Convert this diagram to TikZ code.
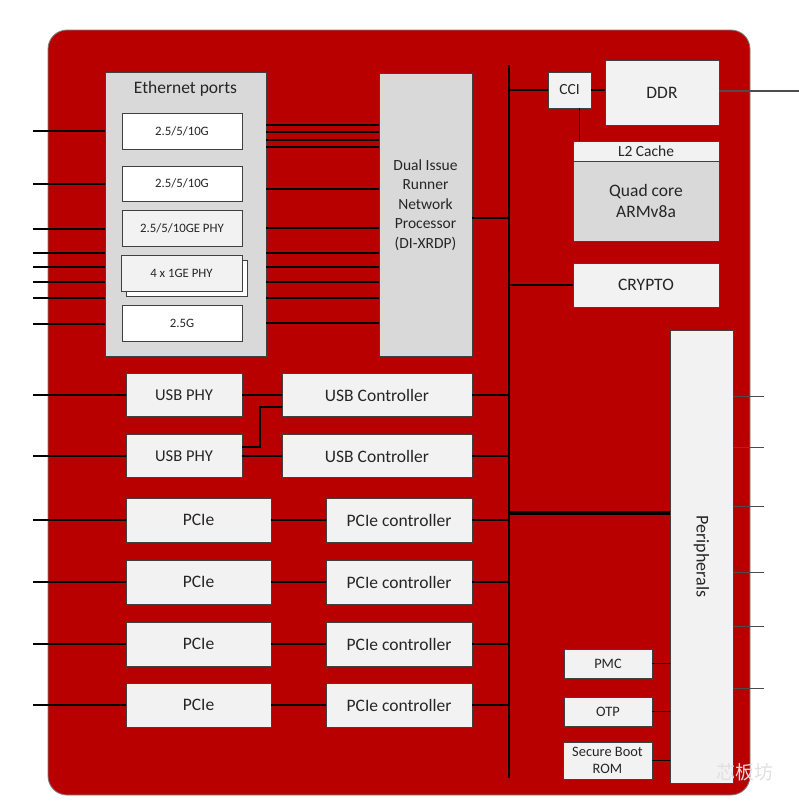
\documentclass[tikz,border=0pt]{standalone}
\usepackage{fontspec}
\setmainfont{Carlito}
\newfontfamily\cjkfont{Noto Sans CJK SC}
\usetikzlibrary{calc}
\definecolor{chipred}{RGB}{184,0,0}
\definecolor{boxgrey}{RGB}{217,217,217}
\definecolor{boxlite}{RGB}{242,242,242}
\definecolor{edgegrey}{RGB}{64,64,64}
\tikzset{
  blk/.style={draw=edgegrey, line width=0.9pt, inner sep=0pt, align=center, text=black!85,
    font=\fontsize{17.5}{21}\selectfont},
  litebox/.style={blk, fill=boxlite},
  greybox/.style={blk, fill=boxgrey},
  whitebox/.style={blk, fill=white},
  smalltxt/.style={font=\fontsize{12.8}{15}\selectfont},
  midtxt/.style={font=\fontsize{15.5}{19.5}\selectfont},
  wire/.style={line width=1.8pt, black},
  bus/.style={line width=2.6pt, black},
  pin/.style={line width=0.8pt, black!70},
}

\begin{document}
\begin{tikzpicture}[x=1pt,y=-1pt]
\useasboundingbox (0,0) rectangle (799,807);
\coordinate (edgeL) at (33,0);
\coordinate (edgeR) at (764,0);
\coordinate (edgeDDR) at (799,0);
\coordinate (busT) at (509,65);
\coordinate (busB) at (509,778);

\draw[draw=black!50, fill=chipred, rounded corners=19pt, line width=0.8pt]
  (48,30) rectangle (750,795);

% ethernet side
\node[greybox, minimum width=161, minimum height=284] (eth) at (185.5,214) {};
\node[text=black!85, font=\fontsize{17.5}{21}\selectfont] (ethT) at (185.5,89) {Ethernet ports};
\node[whitebox, smalltxt, minimum width=120, minimum height=36] (e1) at (182,131) {2.5/5/10G};
\node[whitebox, smalltxt, minimum width=120, minimum height=35] (e2) at (182,183.5) {2.5/5/10G};
\node[litebox, smalltxt, minimum width=120, minimum height=36] (e3) at (182,228) {2.5/5/10GE PHY};
\node[whitebox, minimum width=121, minimum height=36] (e4b) at (186.5,278) {};
\node[litebox, smalltxt, minimum width=121, minimum height=36] (e4) at (181.5,273) {4 x 1GE PHY};
\node[whitebox, smalltxt, minimum width=120, minimum height=36] (e5) at (182,323) {2.5G};

\node[greybox, minimum width=93, minimum height=283] (dix) at (425.5,214.5) {};
\node[midtxt, align=center, text=black!85] (dixT) at (425.5,205)
  {Dual Issue\\Runner\\Network\\Processor\\(DI-XRDP)};

\foreach \y in {131,184,229,253,267,282,298,324}
  \draw[wire] (edgeL |- 0,\y) -- (eth.west |- 0,\y);
\foreach \y in {125,132,140,147,189,228,253,267,282,298,323}
  \draw[wire, line width=1.4pt] (eth.east |- 0,\y) -- (dix.west |- 0,\y);

% cpu side
\node[litebox, midtxt, minimum width=43, minimum height=36] (cci) at (569.5,90) {CCI};
\node[litebox, minimum width=114, minimum height=65] (ddr) at (662,92.5) {DDR};
\node[litebox, midtxt, minimum width=146, minimum height=20] (l2) at (646,151) {L2 Cache};
\node[greybox, minimum width=146, minimum height=80] (quad) at (646,201) {Quad core\\ARMv8a};
\node[litebox, minimum width=146, minimum height=44] (crypto) at (646,285) {CRYPTO};

\draw[bus] (busT) -- (busB);
\draw[wire] (dix.east |- 0,218) -- (busT |- 0,218);
\draw[wire] (cci.west) -- (cci.west -| busT);
\draw[wire] (cci.east) -- (cci.east -| ddr.west);
\draw[wire] ([xshift=10pt]cci.south) -- ([xshift=10pt]cci.south |- l2.north);
\draw[pin, line width=1.2pt] (ddr.east |- 0,91) -- (edgeDDR |- 0,91);
\draw[wire] (crypto.west) -- (crypto.west -| busT);

% peripherals
\node[litebox, minimum width=63, minimum height=453] (peri) at (701.5,556.5) {};
\node[rotate=-90, text=black!85, font=\fontsize{18}{21}\selectfont] (periT) at (peri.center) {Peripherals};
\node[litebox, font=\fontsize{14.4}{17}\selectfont, minimum width=88, minimum height=29] (pmc) at (608,663.5) {PMC};
\node[litebox, font=\fontsize{14.4}{17}\selectfont, minimum width=88, minimum height=29] (otp) at (608,711.5) {OTP};
\node[litebox, font=\fontsize{14.4}{17}\selectfont, minimum width=89, minimum height=37] (rom) at (607.5,760.5) {Secure Boot\\ROM};

\draw[line width=3.6pt] (peri.west |- 0,513) -- (busT |- 0,513);
\foreach \y in {396,447,506,572,626,688}
  \draw[pin] (peri.east |- 0,\y) -- (edgeR |- 0,\y);
\foreach \n in {pmc,otp,rom}
  \draw[wire, line width=1.3pt] (\n.east) -- (\n.east -| peri.west);

% usb
\node[litebox, font=\fontsize{16.5}{20}\selectfont, minimum width=116, minimum height=43] (uphy1) at (184,395) {USB PHY};
\node[litebox, minimum width=190, minimum height=43] (uctl1) at (377,395) {USB Controller};
\node[litebox, font=\fontsize{16.5}{20}\selectfont, minimum width=116, minimum height=43] (uphy2) at (184,456) {USB PHY};
\node[litebox, minimum width=190, minimum height=43] (uctl2) at (377,456) {USB Controller};
\foreach \i in {1,2} {
  \draw[wire] (uphy\i.west -| edgeL) -- (uphy\i.west);
  \draw[wire] (uphy\i.east) -- (uctl\i.west);
  \draw[wire] (uctl\i.east) -- (uctl\i.east -| busT);
}
\draw[wire] (uphy2.east |- 0,447) -- (260,447) -- (260,407) -- (uctl1.west |- 0,407);

% pcie
\foreach \i/\y in {1/520,2/582,3/644,4/705} {
  \node[litebox, minimum width=145, minimum height=44] (pcie\i) at (198.5,\y) {PCIe};
  \node[litebox, minimum width=146, minimum height=44] (pctl\i) at (399,\y) {PCIe controller};
  \draw[wire] (pcie\i.west -| edgeL) -- (pcie\i.west);
  \draw[wire] (pcie\i) -- (pctl\i);
  \draw[wire] (pctl\i.east) -- (pctl\i.east -| busT);
}

\node[text=black!12, font=\cjkfont\fontsize{19}{19}\selectfont] (mark) at (745,772) {芯板坊};
\end{tikzpicture}
\end{document}
